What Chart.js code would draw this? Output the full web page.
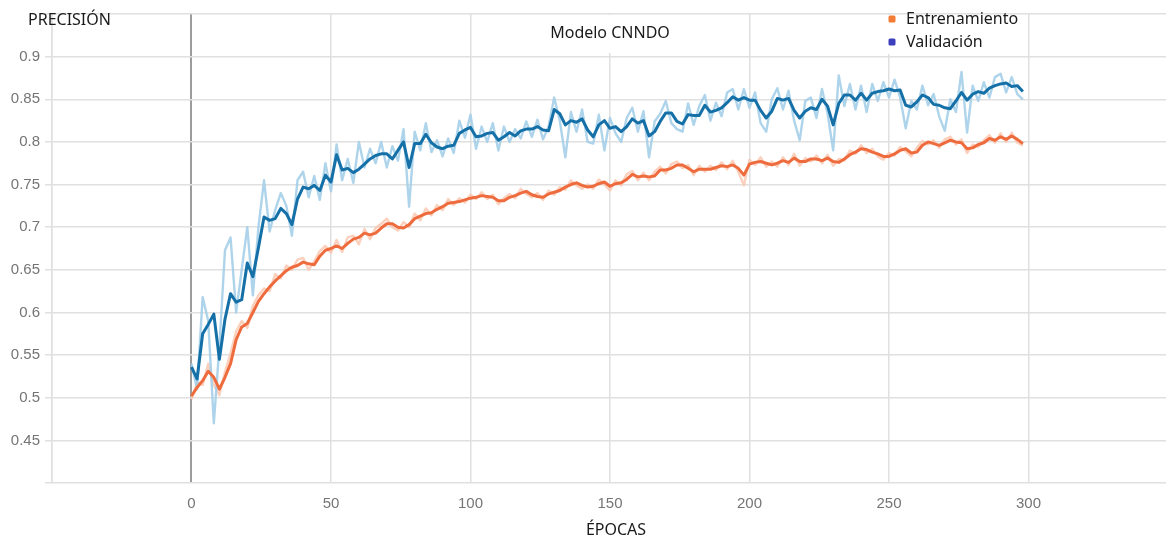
<!DOCTYPE html>
<html>
<head>
<meta charset="utf-8">
<script src="https://cdn.jsdelivr.net/npm/chart.js@4.4.1/dist/chart.umd.min.js"></script>
<style>
  html, body { margin: 0; padding: 0; background: #ffffff; overflow: hidden; }
  #wrap { width: 1166px; height: 540px; }
</style>
</head>
<body>
<div id="wrap"><canvas id="chart" width="1166" height="540"></canvas></div>
<script>
// Epochs sampled every 2 steps
const epochs = [
  0,2,4,6,8,10,12,14,16,18,20,22,24,26,28,30,32,34,36,38,
  40,42,44,46,48,50,52,54,56,58,60,62,64,66,68,70,72,74,76,78,
  80,82,84,86,88,90,92,94,96,98,100,102,104,106,108,110,112,114,116,118,
  120,122,124,126,128,130,132,134,136,138,140,142,144,146,148,150,152,154,156,158,
  160,162,164,166,168,170,172,174,176,178,180,182,184,186,188,190,192,194,196,198,
  200,202,204,206,208,210,212,214,216,218,220,222,224,226,228,230,232,234,236,238,
  240,242,244,246,248,250,252,254,256,258,260,262,264,266,268,270,272,274,276,278,
  280,282,284,286,288,290,292,294,296,298
];

// Training accuracy, smoothed
const trainSmooth = [
  0.502,0.512,0.520,0.531,0.524,0.510,0.524,0.540,0.568,0.583,
  0.587,0.600,0.613,0.622,0.630,0.637,0.643,0.649,0.653,0.655,
  0.659,0.657,0.656,0.666,0.673,0.675,0.678,0.675,0.681,0.686,
  0.688,0.693,0.691,0.693,0.699,0.704,0.704,0.700,0.699,0.703,
  0.710,0.713,0.716,0.717,0.721,0.724,0.728,0.729,0.730,0.732,
  0.734,0.735,0.737,0.736,0.735,0.731,0.731,0.735,0.737,0.740,
  0.742,0.738,0.736,0.735,0.739,0.741,0.743,0.747,0.750,0.752,
  0.749,0.747,0.748,0.751,0.753,0.748,0.751,0.752,0.756,0.762,
  0.759,0.760,0.759,0.760,0.767,0.767,0.769,0.773,0.773,0.769,
  0.765,0.768,0.768,0.768,0.770,0.772,0.771,0.773,0.769,0.761,
  0.774,0.776,0.777,0.775,0.773,0.775,0.778,0.776,0.781,0.777,
  0.777,0.780,0.780,0.778,0.781,0.777,0.776,0.780,0.785,0.788,
  0.792,0.791,0.788,0.786,0.783,0.783,0.786,0.790,0.792,0.787,
  0.788,0.796,0.800,0.798,0.796,0.799,0.802,0.800,0.799,0.792,
  0.793,0.797,0.799,0.804,0.802,0.806,0.803,0.807,0.803,0.798
];

// Training accuracy, raw
const trainRaw = [
  0.498,0.518,0.515,0.540,0.515,0.503,0.530,0.552,0.578,0.590,
  0.582,0.608,0.620,0.628,0.625,0.645,0.640,0.655,0.650,0.662,
  0.664,0.650,0.660,0.672,0.678,0.670,0.685,0.671,0.688,0.690,
  0.680,0.698,0.686,0.699,0.704,0.710,0.700,0.696,0.706,0.700,
  0.716,0.708,0.722,0.714,0.726,0.720,0.733,0.726,0.734,0.729,
  0.738,0.733,0.741,0.733,0.738,0.727,0.734,0.739,0.734,0.745,
  0.739,0.735,0.740,0.732,0.743,0.738,0.747,0.744,0.755,0.749,
  0.745,0.750,0.745,0.756,0.750,0.743,0.755,0.749,0.762,0.766,
  0.755,0.764,0.755,0.765,0.771,0.763,0.774,0.777,0.769,0.773,
  0.761,0.772,0.765,0.772,0.767,0.776,0.768,0.778,0.765,0.749,
  0.779,0.773,0.782,0.771,0.777,0.771,0.782,0.773,0.786,0.772,
  0.781,0.777,0.784,0.775,0.785,0.772,0.780,0.778,0.790,0.786,
  0.796,0.787,0.792,0.783,0.779,0.787,0.784,0.794,0.789,0.783,
  0.793,0.801,0.797,0.802,0.793,0.803,0.806,0.797,0.803,0.787,
  0.797,0.794,0.802,0.808,0.799,0.810,0.800,0.811,0.799,0.796
];

// Validation accuracy, smoothed
const valSmooth = [
  0.536,0.522,0.575,0.586,0.598,0.545,0.592,0.622,0.612,0.615,
  0.658,0.642,0.676,0.712,0.708,0.710,0.722,0.716,0.703,0.733,
  0.747,0.745,0.749,0.743,0.761,0.753,0.785,0.767,0.769,0.764,
  0.768,0.774,0.780,0.784,0.786,0.786,0.780,0.790,0.800,0.770,
  0.798,0.798,0.809,0.799,0.794,0.792,0.795,0.796,0.810,0.814,
  0.817,0.806,0.807,0.810,0.811,0.802,0.806,0.811,0.807,0.813,
  0.815,0.815,0.818,0.814,0.813,0.838,0.833,0.820,0.825,0.823,
  0.827,0.814,0.806,0.820,0.825,0.816,0.818,0.812,0.818,0.827,
  0.822,0.825,0.807,0.812,0.824,0.834,0.834,0.824,0.821,0.832,
  0.831,0.831,0.843,0.835,0.837,0.840,0.846,0.853,0.849,0.852,
  0.849,0.849,0.837,0.828,0.836,0.851,0.849,0.851,0.837,0.828,
  0.836,0.840,0.838,0.850,0.842,0.820,0.845,0.855,0.855,0.849,
  0.857,0.849,0.857,0.859,0.860,0.862,0.860,0.861,0.843,0.841,
  0.847,0.855,0.852,0.844,0.843,0.840,0.839,0.848,0.858,0.849,
  0.856,0.859,0.857,0.863,0.866,0.868,0.869,0.865,0.866,0.859
];

// Validation accuracy, raw
const valRaw = [
  0.540,0.510,0.618,0.590,0.470,0.560,0.673,0.688,0.600,0.650,
  0.700,0.620,0.700,0.755,0.695,0.720,0.740,0.725,0.690,0.755,
  0.765,0.735,0.760,0.732,0.775,0.742,0.797,0.755,0.780,0.752,
  0.800,0.770,0.792,0.775,0.800,0.770,0.795,0.778,0.815,0.724,
  0.812,0.790,0.822,0.788,0.802,0.783,0.804,0.787,0.825,0.805,
  0.832,0.792,0.818,0.800,0.822,0.790,0.818,0.800,0.815,0.804,
  0.824,0.806,0.826,0.803,0.818,0.852,0.825,0.782,0.835,0.812,
  0.838,0.800,0.798,0.832,0.790,0.828,0.810,0.800,0.828,0.840,
  0.812,0.836,0.782,0.824,0.833,0.848,0.822,0.815,0.812,0.845,
  0.820,0.842,0.855,0.825,0.846,0.830,0.858,0.862,0.838,0.862,
  0.840,0.858,0.822,0.812,0.850,0.863,0.838,0.860,0.825,0.802,
  0.848,0.852,0.828,0.862,0.833,0.790,0.878,0.842,0.868,0.838,
  0.866,0.835,0.868,0.848,0.870,0.852,0.873,0.852,0.816,0.848,
  0.838,0.866,0.843,0.856,0.830,0.813,0.850,0.835,0.882,0.811,
  0.866,0.848,0.870,0.852,0.876,0.880,0.858,0.876,0.856,0.850
];

// Axis ticks
const xTicks = [-50, 0, 50, 100, 150, 200, 250, 300];
const yTicks = [0.4, 0.45, 0.5, 0.55, 0.6, 0.65, 0.7, 0.75, 0.8, 0.85, 0.9, 0.95];
const yTickLabels = ['', '0.45', '0.5', '0.55', '0.6', '0.65', '0.7', '0.75', '0.8', '0.85', '0.9', ''];

const toPoints = (vals) => vals.map((v, i) => ({ x: epochs[i], y: v }));

const GRID = '#e0e0e0';
const TICK_FONT = { family: "'Liberation Sans', Arial, sans-serif", size: 15 };
const TEXT_FONT = "'Noto Sans', 'Open Sans', sans-serif";

// Titles, axis captions and the legend drawn on top of the plot
const annotations = {
  id: 'annotations',
  afterDraw(chart) {
    const c = chart.ctx;
    c.save();
    // white boxes behind the chart title and the legend
    c.fillStyle = '#ffffff';
    c.fillRect(545, 15, 135, 38);
    c.fillRect(880, 15, 146, 39);

    c.fillStyle = '#1a1a1a';
    c.textBaseline = 'middle';
    c.font = '16px ' + TEXT_FONT;
    c.textAlign = 'left';
    c.fillText('PRECISIÓN', 28, 20);
    c.textAlign = 'center';
    c.fillText('Modelo CNNDO', 610, 33);
    c.fillText('ÉPOCAS', 616, 530);

    // legend
    const items = [
      { label: 'Entrenamiento', color: '#f27b35', y: 19 },
      { label: 'Validación', color: '#3c3fbd', y: 42 }
    ];
    c.textAlign = 'left';
    items.forEach(it => {
      c.fillStyle = it.color;
      c.beginPath();
      c.roundRect(888.5, it.y - 3.5, 7, 7, 1.5);
      c.fill();
      c.fillStyle = '#1a1a1a';
      c.fillText(it.label, 906, it.y);
    });
    c.restore();
  }
};

new Chart(document.getElementById('chart'), {
  type: 'line',
  data: {
    datasets: [
      { label: 'Validación', data: toPoints(valSmooth), borderColor: '#1570a8', borderWidth: 3, order: 0 },
      { label: 'Entrenamiento', data: toPoints(trainSmooth), borderColor: '#ee6b3d', borderWidth: 3, order: 1 },
      { label: 'Validación (sin suavizar)', data: toPoints(valRaw), borderColor: 'rgba(160, 204, 232, 0.85)', borderWidth: 2.4, order: 2 },
      { label: 'Entrenamiento (sin suavizar)', data: toPoints(trainRaw), borderColor: 'rgba(250, 196, 172, 0.8)', borderWidth: 2.4, order: 3 }
    ]
  },
  options: {
    responsive: false,
    animation: false,
    devicePixelRatio: 1,
    layout: { padding: { top: 13, right: 0, left: 0, bottom: 0 } },
    elements: {
      point: { radius: 0 },
      line: { tension: 0, borderJoinStyle: 'round', fill: false }
    },
    plugins: {
      legend: { display: false },
      tooltip: { enabled: false },
      title: { display: false }
    },
    scales: {
      x: {
        type: 'linear',
        min: -50,
        max: 349.3,
        afterBuildTicks(scale) { scale.ticks = xTicks.map(v => ({ value: v })); },
        afterFit(scale) { scale.height = 57; },
        grid: {
          color: (ctx) => (ctx.tick && ctx.tick.value === 0) ? '#9c9c9c' : GRID,
          lineWidth: (ctx) => (ctx.tick && ctx.tick.value === 0) ? 2 : 1.5,
          drawTicks: false
        },
        border: { display: false },
        ticks: {
          padding: 12,
          color: '#757575',
          font: TICK_FONT,
          maxRotation: 0,
          autoSkip: false,
          callback: (v) => (v < 0 || v > 300) ? '' : String(v)
        }
      },
      y: {
        min: 0.4,
        max: 0.95,
        afterBuildTicks(scale) { scale.ticks = yTicks.map(v => ({ value: v })); },
        afterFit(scale) { scale.width = 52; },
        grid: { color: GRID, lineWidth: 1.5, tickLength: 7 },
        border: { color: GRID, width: 1.5 },
        ticks: {
          padding: 5,
          color: '#757575',
          font: TICK_FONT,
          autoSkip: false,
          callback: (v, i) => yTickLabels[i]
        }
      }
    }
  },
  plugins: [annotations]
});
</script>
</body>
</html>
